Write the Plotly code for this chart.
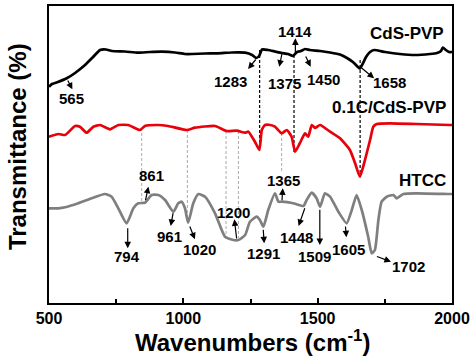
import plotly.graph_objects as go

# ---------------- data ----------------
cds_wn = [500, 511, 533, 566, 597, 634, 664, 690, 712, 734, 783, 831, 876, 921, 969,
          1006, 1032, 1081, 1129, 1181, 1230, 1256, 1271, 1282, 1293, 1315, 1341, 1367,
          1390, 1408, 1423, 1438, 1453, 1471, 1509, 1546, 1583, 1609, 1631, 1650, 1657,
          1669, 1680, 1695, 1710, 1751, 1806, 1862, 1918, 1944, 1959, 1966, 1977, 1989, 2000]
cds_t = [216.3, 219, 221, 224.7, 230, 238, 246, 253, 253.5, 252, 251.5, 250.3, 251, 251.3, 250.5,
         249, 249, 249.5, 249.7, 250.5, 250.3, 248, 245, 247, 253.5, 253, 251.5, 250,
         249, 247, 251, 252, 254, 253, 252, 250.5, 248.5, 245, 241, 236, 234.5,
         240, 246, 251, 253, 251, 249, 248, 249, 250, 252, 255.5, 253, 251, 251]

c_wn = [500, 535, 560, 597, 615, 640, 665, 690, 727, 758, 795, 839, 857, 906, 943,
        1013, 1043, 1118, 1161, 1199, 1230, 1242, 1267, 1283, 1292, 1304, 1323, 1341,
        1366, 1385, 1403, 1416, 1434, 1453, 1465, 1478, 1490, 1509, 1546, 1583, 1620,
        1639, 1657, 1676, 1695, 1707, 1720, 1769, 1869, 1993, 2000]
c_t = [166.3, 169, 168, 177, 176.3, 170.3, 176.3, 178, 173.7, 178, 178, 173, 177, 178, 177,
       173, 175.3, 177, 172, 172.3, 170.3, 171.3, 161, 153, 173, 178, 178, 176.3,
       169.7, 173, 166.3, 151.3, 160, 169.7, 166.3, 178, 175, 178, 171.3, 164.7, 153,
       140, 126.3, 143, 163, 176.3, 179, 179.7, 179, 178, 178]

htcc_wn = [500, 535, 560, 609, 659, 708, 733, 758, 789, 814, 832, 857, 882, 907, 932,
           963, 981, 994, 1006, 1018, 1037, 1056, 1081, 1118, 1155, 1186, 1205, 1230,
           1248, 1273, 1285, 1298, 1316, 1341, 1354, 1366, 1409, 1447, 1459, 1478, 1496,
           1509, 1527, 1546, 1577, 1608, 1627, 1645, 1664, 1688, 1701, 1713, 1726, 1738,
           1757, 1782, 1794, 1819, 1869, 1993, 2000]
htcc_t = [94.7, 94.7, 95.7, 99.7, 104.7, 109, 106.3, 94.7, 79.7, 94.7, 99.7, 100.3, 108, 108, 103,
          91.3, 99.7, 101.3, 94.7, 80.3, 99.7, 109, 106.3, 89.7, 66.3, 63, 63, 68,
          81.3, 86.3, 83, 76.3, 93, 109.7, 101.3, 101.3, 99.7, 97, 103, 110.3, 104.7,
          96.3, 109.7, 106.3, 91.3, 79.7, 93, 108, 93, 66.3, 49.7, 53, 83, 101.3,
          106.3, 108, 104.7, 109, 109.7, 109, 109]

x_ticks = [500, 1000, 1500, 2000]
series_names = ["CdS-PVP", "0.1C/CdS-PVP", "HTCC"]

# peak labels: (text, text_x, text_y, tail_x, tail_y, head_x, head_y)
peak_labels = [
    ("565", 584, 204.7, 567, 224, 587, 213.7),
    ("1283", 1174, 221.3, 1274, 245, 1241, 234),
    ("1375", 1375, 220, 1368, 250.3, 1357, 236.3),
    ("1414", 1417, 271.3, 1417, 248, 1417, 264.7),
    ("1450", 1521, 223.7, 1453, 248, 1474, 236.3),
    ("1658", 1769, 220.3, 1658, 236.3, 1710, 224.7),
    ("861", 882, 128, 858, 101.3, 870, 116.3),
    ("794", 789, 46.3, 793, 76.3, 793, 54.7),
    ("961", 948, 67, 963, 91.3, 953, 77),
    ("1020", 1062, 53.7, 1022, 78, 1043, 63.7),
    ("1200", 1186, 90.3, 1199, 63, 1190, 83.7),
    ("1291", 1299, 49.7, 1297, 74.7, 1301, 59.7),
    ("1365", 1374, 123, 1367, 101.3, 1370, 114.7),
    ("1448", 1423, 65.7, 1454, 96.3, 1429, 77),
    ("1509", 1488, 46.3, 1508, 94.7, 1508, 58),
    ("1605", 1616, 53.7, 1603, 78, 1607, 65.7),
    ("1702", 1839, 36.3, 1715, 47, 1773, 41.3),
]

# dashed guide lines: (wavenumber, y_top, y_bottom)
black_guides = [(1284, 253, 153), (1412, 248, 151), (1658, 243, 126)]
gray_guides = [(845, 175, 101), (1015, 173, 81), (1159, 172, 65), (1205, 172, 65), (1366, 170, 130)]

FONT = "Liberation Sans, Arial, sans-serif"

fig = go.Figure()
fig.add_trace(go.Scatter(x=cds_wn, y=cds_t, mode="lines", name=series_names[0],
                         line=dict(color="#000000", width=2.7, shape="spline", smoothing=0.5)))
fig.add_trace(go.Scatter(x=c_wn, y=c_t, mode="lines", name=series_names[1],
                         line=dict(color="#e8000b", width=2.7, shape="spline", smoothing=0.5)))
fig.add_trace(go.Scatter(x=htcc_wn, y=htcc_t, mode="lines", name=series_names[2],
                         line=dict(color="#7f7f7f", width=2.7, shape="spline", smoothing=0.5)))

shapes = []
for wn, y0, y1 in black_guides:
    shapes.append(dict(type="line", xref="x", yref="y", x0=wn, x1=wn, y0=y0, y1=y1,
                       line=dict(color="#000000", width=1.2, dash="3px,2px"), layer="below"))
for wn, y0, y1 in gray_guides:
    shapes.append(dict(type="line", xref="x", yref="y", x0=wn, x1=wn, y0=y0, y1=y1,
                       line=dict(color="#aaaaaa", width=1, dash="3px,2px"), layer="below"))

annotations = []
for txt, tx, ty, x0, y0, x1, y1 in peak_labels:
    annotations.append(dict(x=tx, y=ty, xref="x", yref="y", text="<b>%s</b>" % txt,
                            showarrow=False, font=dict(family=FONT, size=15, color="#000")))
    annotations.append(dict(x=x1, y=y1, ax=x0, ay=y0, xref="x", yref="y", axref="x", ayref="y",
                            text="", showarrow=True, arrowhead=2, arrowsize=1.1, arrowwidth=1.2,
                            arrowcolor="#000", standoff=0, startstandoff=0))

series_pos = [(1978, 269.7), (1984, 195.3), (1984, 123)]
for name, (sx, sy) in zip(series_names, series_pos):
    annotations.append(dict(x=sx, y=sy, xref="x", yref="y", text="<b>%s</b>" % name,
                            showarrow=False, xanchor="right",
                            font=dict(family=FONT, size=17, color="#000")))

annotations.append(dict(x=-0.0794, y=0.525, xref="paper", yref="paper", textangle=-90,
                        xanchor="center", yanchor="middle",
                        text="<b>Transmittance (%)</b>", showarrow=False,
                        font=dict(family=FONT, size=24, color="#000")))
annotations.append(dict(x=0.505, y=-0.184, xref="paper", yref="paper",
                        xanchor="center", yanchor="bottom",
                        text="<b>Wavenumbers (cm<sup>-1</sup>)</b>", showarrow=False,
                        font=dict(family=FONT, size=24, color="#000")))

fig.update_layout(
    width=474, height=358,
    margin=dict(l=49, r=22, t=6, b=55),
    paper_bgcolor="white", plot_bgcolor="white",
    showlegend=False,
    shapes=shapes, annotations=annotations,
    font=dict(family=FONT, color="#000"),
)
fig.update_xaxes(range=[500, 2000], tickvals=x_ticks,
                 ticktext=["<b>%d</b>" % v for v in x_ticks],
                 tickfont=dict(family=FONT, size=16, color="#000"),
                 ticks="inside", ticklen=5, tickwidth=2, tickcolor="#000",
                 minor=dict(dtick=250, tick0=500, ticks="inside", ticklen=4, tickwidth=2, tickcolor="#000"),
                 showline=True, linewidth=2, linecolor="#000", mirror=True,
                 showgrid=False, zeroline=False, automargin=False)
fig.update_yaxes(range=[0, 297], showticklabels=False, ticks="",
                 showline=True, linewidth=2, linecolor="#000", mirror=True,
                 showgrid=False, zeroline=False, automargin=False)

fig.write_html("out.html", config={"displayModeBar": False},
               post_script="document.body.style.margin='0px';")
